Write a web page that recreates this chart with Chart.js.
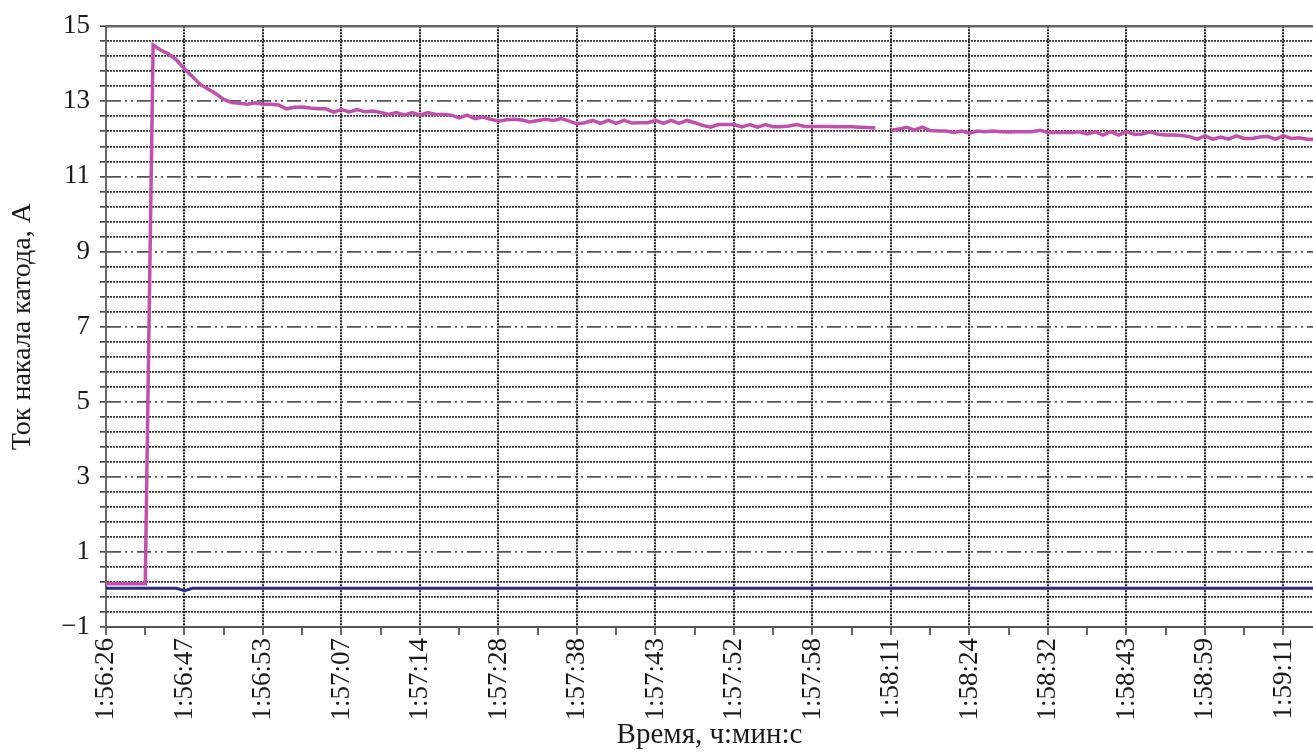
<!DOCTYPE html>
<html lang="ru">
<head>
<meta charset="utf-8">
<script src="https://cdn.jsdelivr.net/npm/chart.js@4.4.1/dist/chart.umd.min.js"></script>
<style>
  html, body { margin: 0; padding: 0; background: #fff; }
  #wrap { position: relative; width: 1313px; height: 755px; }
</style>
</head>
<body>
<div id="wrap"><canvas id="currentChart"></canvas></div>
<script>
// time labels under the vertical grid lines
const timeLabels = ['1:56:26', '1:56:47', '1:56:53', '1:57:07', '1:57:14', '1:57:28', '1:57:38', '1:57:43',
                    '1:57:52', '1:57:58', '1:58:11', '1:58:24', '1:58:32', '1:58:43', '1:58:59', '1:59:11'];
const samplesPerLabel = 10;

// y axis: labelled values and the fine grid step
const yLabelValues = [-1, 1, 3, 5, 7, 9, 11, 13, 15];
const yMinorStep = 0.4;

// cathode heater current, A (magenta), one sample per 1/10 of a label interval
const heaterCurrent = [
  0.15, 0.15, 0.15, 0.15, 0.15, 0.15, 14.50, 14.36, 14.26, 14.10,
  13.86, 13.66, 13.45, 13.33, 13.20, 13.05, 12.97, 12.95, 12.92, 12.96,
  12.92, 12.92, 12.90, 12.80, 12.84, 12.85, 12.82, 12.80, 12.80, 12.71,
  12.78, 12.72, 12.78, 12.72, 12.74, 12.70, 12.65, 12.70, 12.63, 12.70,
  12.63, 12.70, 12.65, 12.65, 12.63, 12.56, 12.63, 12.54, 12.58, 12.52,
  12.47, 12.51, 12.52, 12.50, 12.45, 12.49, 12.52, 12.49, 12.54, 12.47,
  12.40, 12.43, 12.49, 12.41, 12.49, 12.41, 12.49, 12.42, 12.43, 12.43,
  12.49, 12.41, 12.49, 12.41, 12.49, 12.43, 12.36, 12.31, 12.38, 12.38,
  12.38, 12.32, 12.38, 12.31, 12.38, 12.32, 12.32, 12.34, 12.38, 12.33,
  12.33, 12.33, 12.33, 12.32, 12.32, 12.32, 12.31, 12.30, 12.29, null,
  12.23, 12.26, 12.31, 12.23, 12.31, 12.22, 12.21, 12.21, 12.17, 12.21,
  12.15, 12.21, 12.19, 12.21, 12.19, 12.18, 12.19, 12.19, 12.19, 12.23,
  12.17, 12.17, 12.17, 12.17, 12.19, 12.13, 12.19, 12.10, 12.19, 12.10,
  12.19, 12.12, 12.13, 12.19, 12.12, 12.10, 12.10, 12.09, 12.06, 11.99,
  12.08, 11.99, 12.05, 11.99, 12.08, 12.01, 12.01, 12.05, 12.06, 11.99,
  12.08, 12.01, 12.03, 11.99, 11.99
];

// second channel (dark blue), nearly zero all along
const secondTimes  = [0, 0.9, 1.0, 1.1, 15.4];
const secondValues = [0.03, 0.03, -0.03, 0.03, 0.03];

const xMax = 15.376;
const serif = "'Liberation Serif', 'DejaVu Serif', serif";

function isLabelled(v) {
  return yLabelValues.some(l => Math.abs(l - v) < 1e-6);
}

const ctx = document.getElementById('currentChart').getContext('2d');
new Chart(ctx, {
  type: 'line',
  data: {
    datasets: [
      {
        label: 'Ток накала',
        data: heaterCurrent.map((v, i) => ({ x: i / samplesPerLabel, y: v })),
        borderColor: '#c24fae',
        borderWidth: 3.5,
        pointRadius: 0,
        tension: 0,
        spanGaps: false,
        fill: false
      },
      {
        label: 'Канал 2',
        data: secondValues.map((v, i) => ({ x: secondTimes[i], y: v })),
        borderColor: '#2a2c86',
        borderWidth: 3,
        pointRadius: 0,
        tension: 0,
        fill: false
      }
    ]
  },
  options: {
    responsive: true,
    maintainAspectRatio: false,
    animation: false,
    devicePixelRatio: 1,
    layout: { padding: { top: 22, right: 0, left: 0, bottom: 0 } },
    plugins: { legend: { display: false }, tooltip: { enabled: false } },
    scales: {
      x: {
        type: 'linear',
        min: 0,
        max: xMax,
        afterBuildTicks: scale => {
          const t = [];
          for (let k = 0; k <= (timeLabels.length - 1) * 2; k++) t.push({ value: k / 2 });
          scale.ticks = t;
        },
        afterFit: scale => {
          scale.height = 128;
          scale.paddingRight = 0;
          scale.paddingLeft = 0;
        },
        ticks: {
          autoSkip: false,
          includeBounds: false,
          maxRotation: 90,
          minRotation: 90,
          padding: 3,
          color: '#1a1a1a',
          font: { family: serif, size: 27 },
          callback: v => Number.isInteger(v) ? timeLabels[v] : ''
        },
        grid: {
          color: c => (c.tick && Number.isInteger(c.tick.value)) ? '#222' : 'rgba(0,0,0,0)',
          lineWidth: 2,
          tickColor: '#333',
          tickLength: 8,
          tickWidth: 1.5
        },
        border: {
          display: true,
          color: '#555',
          width: 2,
          dash: c => c.tick ? [2, 1] : []
        },
        title: {
          display: true,
          text: 'Время, ч:мин:с',
          color: '#1a1a1a',
          font: { family: serif, size: 29 },
          padding: { top: 0, bottom: 2 }
        }
      },
      y: {
        type: 'linear',
        min: -1,
        max: 15,
        afterBuildTicks: scale => {
          const t = [];
          const n = Math.round((scale.max - scale.min) / yMinorStep);
          for (let k = 0; k <= n; k++) t.push({ value: Math.round((scale.min + k * yMinorStep) * 10) / 10 });
          scale.ticks = t;
        },
        afterFit: scale => { scale.width = 106; },
        ticks: {
          autoSkip: false,
          padding: 10,
          color: '#1a1a1a',
          font: { family: serif, size: 27 },
          callback: v => isLabelled(v) ? String(v).replace('-', '\u2212') : ''
        },
        grid: {
          color: c => {
            if (!c.tick) return '#333';
            if (c.tick.value === 15) return '#666';
            return isLabelled(c.tick.value) ? '#555' : '#333';
          },
          lineWidth: c => (c.tick && c.tick.value === 15) ? 2.5 : 1.7,
          tickColor: '#333',
          tickLength: 6,
          tickWidth: 1.5
        },
        border: {
          display: true,
          color: '#666',
          width: 2,
          dash: c => {
            if (!c.tick || c.tick.value === 15) return [];
            return isLabelled(c.tick.value) ? [14, 4, 2, 4, 2, 4] : [2, 1];
          }
        },
        title: {
          display: true,
          text: 'Ток накала катода, А',
          color: '#1a1a1a',
          font: { family: serif, size: 28 },
          padding: { top: 6, bottom: 0 }
        }
      }
    }
  }
});
</script>
</body>
</html>
